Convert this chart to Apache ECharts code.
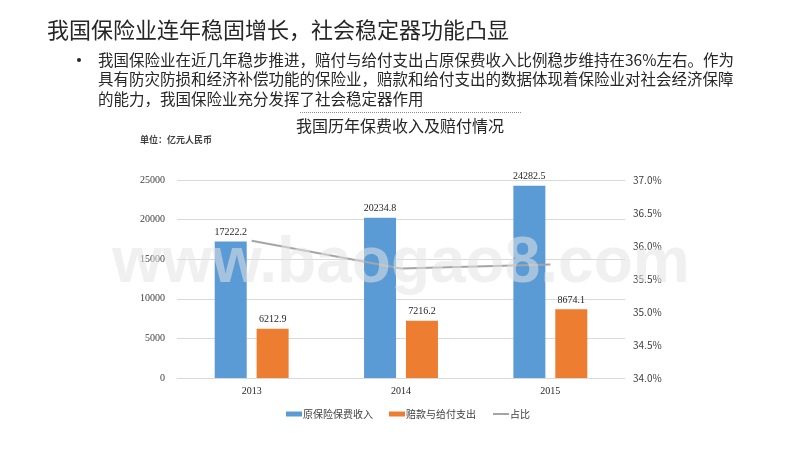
<!DOCTYPE html>
<html>
<head>
<meta charset="utf-8">
<script src="https://cdn.jsdelivr.net/npm/echarts@6/dist/echarts.min.js"></script>
<style>
html,body{margin:0;padding:0;background:#fff;}
#c{width:800px;height:450px;}
</style>
</head>
<body>
<div id="c"></div>
<script>
var categories = ['2013', '2014', '2015'];
var premiumIncome = [17222.2, 20234.8, 24282.5];
var claimsPaid = [6212.9, 7216.2, 8674.1];
var ratioPct = [36.08, 35.66, 35.72];
var seriesNames = ['原保险保费收入', '赔款与给付支出', '占比'];
var leftTicks = {min: 0, max: 25000, interval: 5000};
var rightTicks = {min: 34, max: 37, interval: 0.5};

var titleText = '我国保险业连年稳固增长，社会稳定器功能凸显';
var bulletLines = [
  '我国保险业在近几年稳步推进，赔付与给付支出占原保费收入比例稳步维持在36%左右。作为',
  '具有防灾防损和经济补偿功能的保险业，赔款和给付支出的数据体现着保险业对社会经济保障',
  '的能力，我国保险业充分发挥了社会稳定器作用'
];
var chartTitle = '我国历年保费收入及赔付情况';
var unitText = '单位：亿元人民币';

var cjk = '"Noto Sans CJK SC", "Noto Sans", sans-serif';
var serif = '"Liberation Serif", "DejaVu Serif", serif';

var chart = echarts.init(document.getElementById('c'));
chart.setOption({
  backgroundColor: '#fff',
  animation: false,
  grid: {left: 177, right: 175, top: 180, bottom: 72, containLabel: false},
  legend: {
    left: 281, top: 404,
    itemWidth: 16, itemHeight: 5, itemGap: 16,
    textStyle: {fontSize: 10, color: '#404040', fontFamily: cjk, padding: [0,0,0,-4]},
    data: [
      {name: seriesNames[0], icon: 'rect'},
      {name: seriesNames[1], icon: 'rect'},
      {name: seriesNames[2], itemStyle: {color: 'rgba(0,0,0,0)', borderWidth: 0, opacity: 0}}
    ]
  },
  xAxis: {
    type: 'category', data: categories,
    axisLine: {show: true, lineStyle: {color: '#d9d9d9'}},
    axisTick: {show: false},
    axisLabel: {fontFamily: serif, fontSize: 10, color: '#262626', margin: 8}
  },
  yAxis: [
    {
      type: 'value', min: leftTicks.min, max: leftTicks.max, interval: leftTicks.interval,
      axisLine: {show: false}, axisTick: {show: false},
      splitLine: {lineStyle: {color: '#d9d9d9', width: 1}},
      axisLabel: {fontFamily: serif, fontSize: 10, color: '#404040', margin: 12,
        formatter: function (v) { return String(v); }}
    },
    {
      type: 'value', min: rightTicks.min, max: rightTicks.max, interval: rightTicks.interval,
      axisLine: {show: false}, axisTick: {show: false},
      splitLine: {show: false},
      axisLabel: {fontFamily: cjk, fontSize: 10, color: '#404040', margin: 8,
        formatter: function (v) { return v.toFixed(1) + '%'; }}
    }
  ],
  series: [
    {
      name: seriesNames[0], type: 'bar', data: premiumIncome, barWidth: 32, barGap: '31%',
      itemStyle: {color: '#5b9bd5'},
      label: {show: true, position: 'top', distance: 4, fontFamily: serif, fontSize: 10, color: '#262626'}
    },
    {
      name: seriesNames[1], type: 'bar', data: claimsPaid, barWidth: 32,
      itemStyle: {color: '#ed7d31'},
      label: {show: true, position: 'top', distance: 4, fontFamily: serif, fontSize: 10, color: '#262626'}
    },
    {
      name: seriesNames[2], type: 'line', yAxisIndex: 1, data: ratioPct,
      symbol: 'none', lineStyle: {color: '#a5a5a5', width: 2}, itemStyle: {color: '#a5a5a5'}, z: 5
    }
  ],
  graphic: [
    {type: 'text', left: 47, top: 19, style: {text: titleText, font: '22px ' + cjk, fill: '#262626'}},
    {type: 'circle', shape: {cx: 79, cy: 60, r: 2}, style: {fill: '#262626'}},
    {type: 'text', left: 98, top: 50, style: {text: bulletLines.join('\n'), font: '15.5px ' + cjk, lineHeight: 19.5, fill: '#262626'}},
    {type: 'line', shape: {x1: 300, y1: 112.5, x2: 522, y2: 112.5}, style: {stroke: '#8c8c8c', lineWidth: 1, lineDash: [1, 1]}},
    {type: 'text', left: 'center', top: 118, style: {text: chartTitle, font: '16px ' + cjk, fill: '#262626'}},
    {type: 'text', left: 140, top: 135, style: {text: unitText, font: 'bold 9px ' + cjk, fill: '#404040'}},
    {type: 'text', x: 401, y: 264, z: 100, style: {text: 'www.baogao8.com', font: 'bold 64px "Liberation Sans", Arial, sans-serif', fill: 'rgba(228,228,228,0.55)', align: 'center', verticalAlign: 'middle'}}
  ]
});
</script>
</body>
</html>
